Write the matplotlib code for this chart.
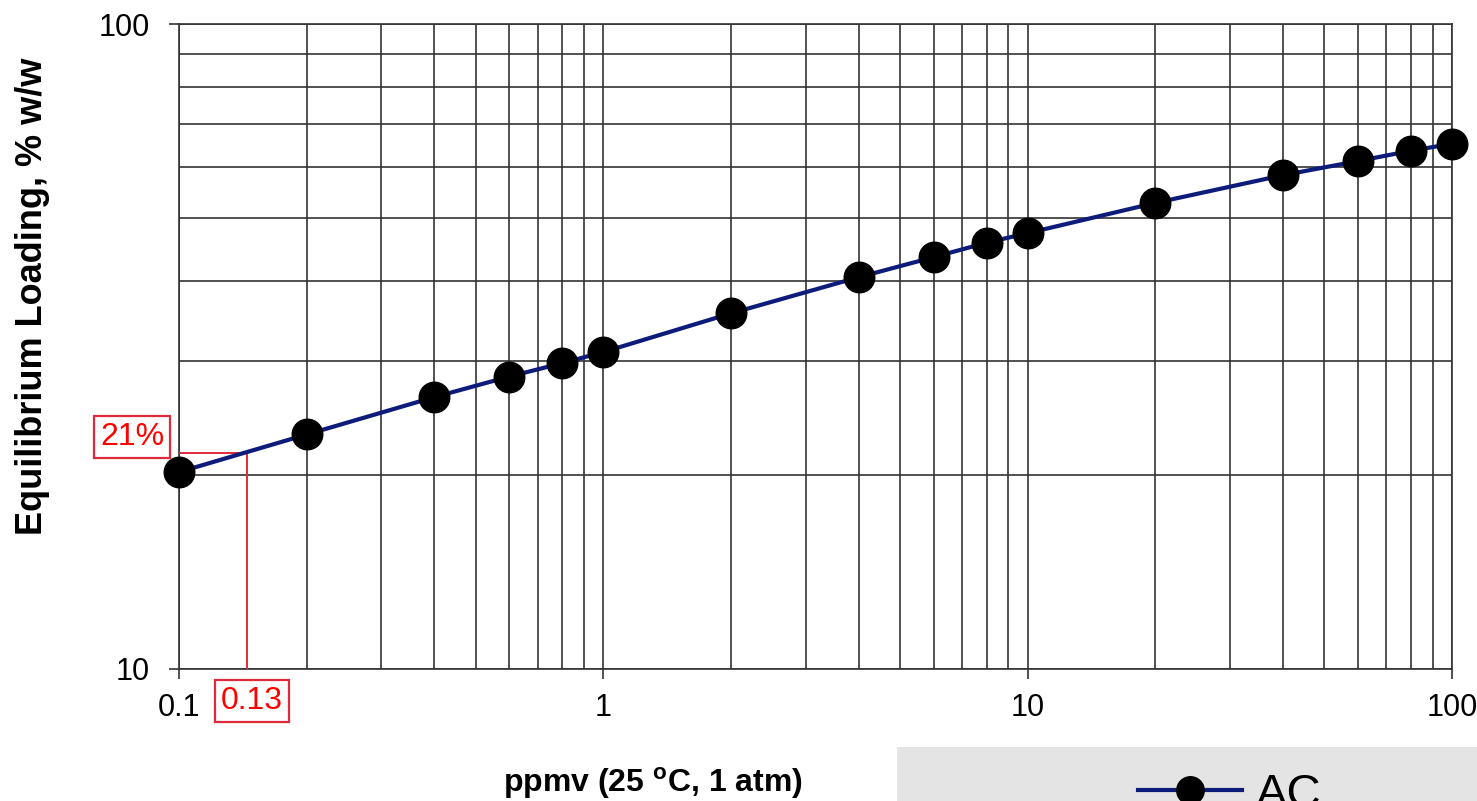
import matplotlib
matplotlib.use("Agg")
import matplotlib.pyplot as plt
from matplotlib.patches import Rectangle

plt.rcParams['font.family'] = ['Liberation Sans', 'DejaVu Sans']
plt.rcParams['mathtext.fontset'] = 'custom'
plt.rcParams['mathtext.rm'] = 'Liberation Sans'
plt.rcParams['mathtext.bf'] = 'Liberation Sans:bold'

# data
ppmv = [0.1, 0.2, 0.4, 0.6, 0.8, 1, 2, 4, 6, 8, 10, 20, 40, 60, 80, 100]
loading = [20.2, 23.1, 26.4, 28.4, 29.8, 31.0, 35.6, 40.5, 43.5, 45.8, 47.4,
           52.8, 58.3, 61.3, 63.6, 65.2]
series_name = "AC"

# red read-off marker
mark_x = 0.145
mark_y = 21.6
mark_x_label = "0.13"
mark_y_label = "21%"

fig = plt.figure(figsize=(14.77, 8.01), dpi=100)
ax = fig.add_axes([179/1477, 1-669/801, (1452-179)/1477, (669-24)/801])

ax.set_xscale('log')
ax.set_yscale('log')
ax.set_xlim(0.1, 100)
ax.set_ylim(10, 100)

grid_col = '#333333'
ax.grid(True, which='both', color=grid_col, lw=1.2)
ax.set_axisbelow(True)
for s in ax.spines.values():
    s.set_color(grid_col)
    s.set_linewidth(1.2)

ax.plot(ppmv, loading, color='#0d1b7a', lw=3, marker='o', ms=22,
        mfc='black', mec='black', label=series_name, clip_on=False, zorder=5)

# red guide lines and boxes
red_edge = '#e02a3c'
ax.plot([0.1, mark_x, mark_x], [mark_y, mark_y, 10], color=red_edge, lw=1.4, zorder=4)
box = dict(boxstyle='square,pad=0.18', fc='white', ec=red_edge, lw=1.6)
fig.text(132/1477, 1-437/801, mark_y_label, color='red', fontsize=23,
         ha='center', va='center', bbox=box)
fig.text(252/1477, 1-701/801, mark_x_label, color='red', fontsize=23,
         ha='center', va='center', bbox=box)

ax.set_xticks([0.1, 1, 10, 100])
ax.set_xticklabels(['0.1', '1', '10', '100'])
ax.set_yticks([10, 100])
ax.set_yticklabels(['10', '100'])
ax.tick_params(which='major', length=7, width=1.2, color=grid_col, labelsize=22)
ax.tick_params(axis='x', which='major', pad=10)
ax.tick_params(axis='y', which='major', pad=14)
ax.tick_params(which='minor', length=0)
ax.yaxis.set_minor_formatter(plt.NullFormatter())
ax.xaxis.set_minor_formatter(plt.NullFormatter())

ax.set_ylabel('Equilibrium Loading, % w/w', fontsize=26, fontweight='bold')
ax.yaxis.set_label_coords(-0.101, 0.578)
ax.set_xlabel(r'ppmv (25 $^{\mathbf{o}}$C, 1 atm)', fontsize=23, fontweight='bold')
ax.xaxis.set_label_coords(0.372, -0.150)

# grey legend panel, cut off by the figure edge
fig.patches.append(Rectangle((897/1477, 0), 1, (801-747)/801,
                             transform=fig.transFigure, fc='#e4e4e4', ec='none', zorder=-1))
ax.legend(loc='center left', bbox_to_anchor=(1138/1477, 6/801),
          bbox_transform=fig.transFigure, frameon=False, fontsize=34,
          handlelength=2.2, handletextpad=0.3, borderpad=0, borderaxespad=0,
          markerscale=0.9)

plt.savefig('out.png', dpi=100)
